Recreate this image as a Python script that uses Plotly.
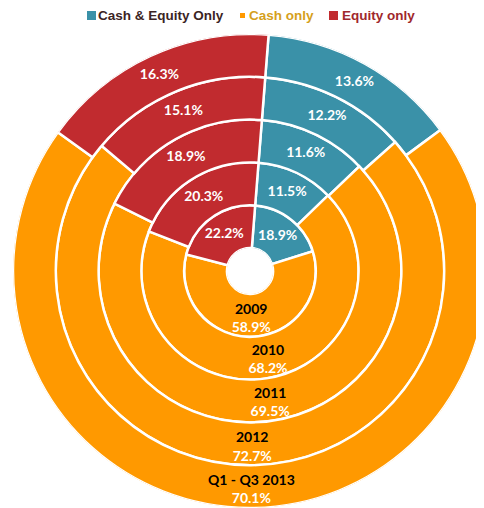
import plotly.graph_objects as go

# ---- data ----
years = ["2009", "2010", "2011", "2012", "Q1 - Q3 2013"]
cash_equity_only = [18.9, 11.5, 11.6, 12.2, 13.6]
cash_only = [58.9, 68.2, 69.5, 72.7, 70.1]
equity_only = [22.2, 20.3, 18.9, 15.1, 16.3]
series_names = ["Cash & Equity Only", "Cash only", "Equity only"]

# ---- styles ----
colors = ["#3A91A8", "#FF9900", "#C12B2F"]
legend_text_colors = ["#3B2424", "#D5A01C", "#A0282C"]
START_ANGLE = 4.5  # first slice angle (deg, clockwise from 12 o'clock)

# the page body has an 8px default margin; lay out in page pixels minus that offset
OFF = 8
W, H = 484, 500
ML, MR, MT, MB = 5, 0, 26, 0
PW, PH = W - ML - MR, H - MT - MB
DIAM = 474


def px_x(x):
    return (x - OFF - ML) / PW


def px_y(y):
    return 1 - (y - OFF - MT) / PH


fig = go.Figure()
n = len(years)
cum = [0.0] * n
all_series = [cash_equity_only, cash_only, equity_only]
for name, vals, color in zip(series_names, all_series, colors):
    theta = [(c + v / 2) * 3.6 for c, v in zip(cum, vals)]
    width = [v * 3.6 for v in vals]
    fig.add_trace(go.Barpolar(
        r=[1] * n, base=list(range(n)), theta=theta, width=width,
        marker=dict(color=color, line=dict(color="white", width=2.5)),
        name=name, showlegend=False, hoverinfo="skip",
    ))
    if name == "Cash only":
        txt = [f"<span style='color:#000000'><b>{y}</b></span><br><b>{v:.1f}%</b>"
               for y, v in zip(years, vals)]
        rpos = [b + 0.6 for b in range(n)]
    else:
        txt = [f"<b>{v:.1f}%</b>" for v in vals]
        rpos = [b + 0.5 for b in range(n)]
    fig.add_trace(go.Scatterpolar(
        r=rpos, theta=theta, mode="text", text=txt,
        textposition="middle center",
        textfont=dict(family="Lato", size=14, color="white"),
        showlegend=False, hoverinfo="skip",
    ))
    cum = [c + v for c, v in zip(cum, vals)]

# ---- legend (drawn as text + squares) ----
legend_items = [
    (87, 96, 9, series_names[0]),
    (240, 247, 5, series_names[1]),
    (329, 340, 9, series_names[2]),
]
shapes = []
annotations = []
for (sq_x, tx_x, sz, name), col, tcol in zip(legend_items, colors, legend_text_colors):
    shapes.append(dict(
        type="rect", xref="paper", yref="paper", xsizemode="pixel", ysizemode="pixel",
        xanchor=px_x(sq_x), yanchor=px_y(15.5),
        x0=0, x1=sz, y0=-sz / 2, y1=sz / 2,
        fillcolor=col, line=dict(width=0),
    ))
    annotations.append(dict(
        xref="paper", yref="paper", x=px_x(tx_x), y=px_y(15.5),
        xanchor="left", yanchor="middle", showarrow=False,
        text=f"<b>{name}</b>",
        font=dict(family="Liberation Sans", size=13.5, color=tcol),
    ))

fig.update_layout(
    width=W, height=H,
    margin=dict(l=ML, r=MR, t=MT, b=MB),
    paper_bgcolor="white", plot_bgcolor="white",
    showlegend=False,
    polar=dict(
        domain=dict(x=[0, DIAM / PW], y=[0, 1]),
        bgcolor="white",
        hole=23 / 237,
        barmode="overlay",
        radialaxis=dict(range=[0, n], visible=False, showgrid=False),
        angularaxis=dict(visible=False, showgrid=False, rotation=90 - START_ANGLE,
                         direction="clockwise", thetaunit="degrees"),
    ),
    shapes=shapes,
    annotations=annotations,
)

fig.write_html("out.html")
